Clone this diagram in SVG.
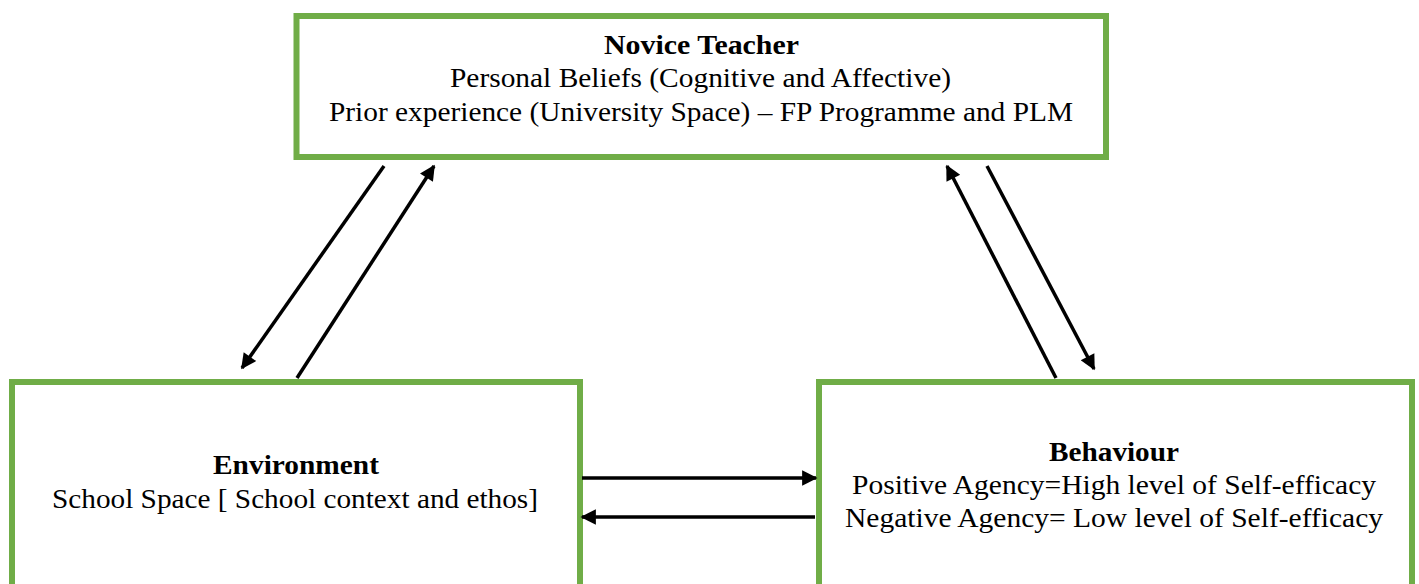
<svg xmlns="http://www.w3.org/2000/svg" width="1419" height="584" viewBox="0 0 1419 584">
  <style>
    .box { fill: #ffffff; stroke: #70ad47; stroke-width: 6; }
    .t { font-family: "Liberation Serif", "Times New Roman", serif; font-size: 27px; fill: #000; text-anchor: middle; }
    .b { font-weight: bold; }
    .link { stroke: #000; stroke-width: 3.5; fill: none; marker-end: url(#arrow); }
  </style>
  <defs>
    <marker id="arrow" viewBox="0 0 10 10" refX="9" refY="5" markerWidth="5" markerHeight="4.4" markerUnits="strokeWidth" orient="auto">
      <path d="M0,0 L10,5 L0,10 z" fill="#000"/>
    </marker>
  </defs>
  <rect width="1419" height="584" fill="#ffffff"/>

  <g id="novice-teacher">
    <rect class="box" x="296.5" y="16" width="809.5" height="141"/>
    <text class="t b" x="701.5" y="54" textLength="195" lengthAdjust="spacingAndGlyphs">Novice Teacher</text>
    <text class="t" x="700.5" y="87" textLength="501" lengthAdjust="spacingAndGlyphs">Personal Beliefs (Cognitive and Affective)</text>
    <text class="t" x="701" y="121" textLength="744" lengthAdjust="spacingAndGlyphs">Prior experience (University Space) – FP Programme and PLM</text>
  </g>

  <g id="environment">
    <rect class="box" x="12" y="382" width="568" height="210"/>
    <text class="t b" x="296" y="474" textLength="166" lengthAdjust="spacingAndGlyphs">Environment</text>
    <text class="t" x="295" y="508" textLength="486" lengthAdjust="spacingAndGlyphs">School Space [ School context and ethos]</text>
  </g>

  <g id="behaviour">
    <rect class="box" x="819" y="382" width="593" height="210"/>
    <text class="t b" x="1114" y="461" textLength="130" lengthAdjust="spacingAndGlyphs">Behaviour</text>
    <text class="t" x="1114" y="494" textLength="524" lengthAdjust="spacingAndGlyphs">Positive Agency=High level of Self-efficacy</text>
    <text class="t" x="1114" y="527" textLength="538" lengthAdjust="spacingAndGlyphs">Negative Agency= Low level of Self-efficacy</text>
  </g>

  <g id="connectors">
    <line class="link" x1="384" y1="166" x2="242" y2="368"/>
    <line class="link" x1="297" y1="378" x2="434" y2="166"/>
    <line class="link" x1="1056" y1="378" x2="947" y2="166"/>
    <line class="link" x1="987" y1="166" x2="1094" y2="369"/>
    <line class="link" x1="582" y1="478" x2="816" y2="478"/>
    <line class="link" x1="815" y1="517" x2="582" y2="517"/>
  </g>
</svg>
